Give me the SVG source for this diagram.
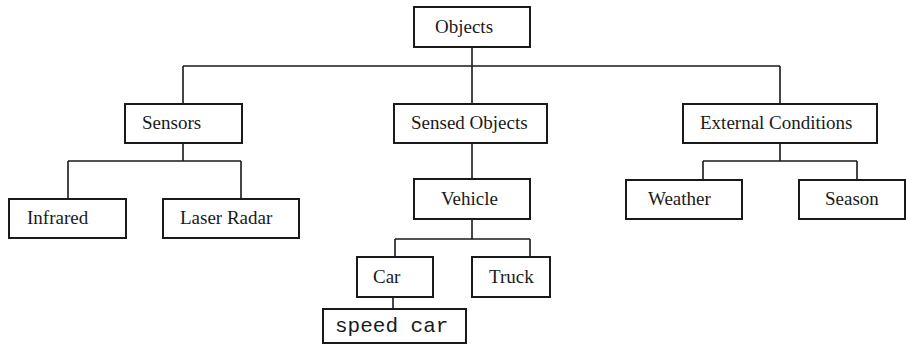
<svg xmlns="http://www.w3.org/2000/svg" width="906" height="345" viewBox="0 0 906 345">
  <style>
    .box { fill: #ffffff; stroke: #1a1a1a; stroke-width: 2; }
    .lbl { font-family: "Liberation Serif", "Times New Roman", serif; font-size: 19px; fill: #1a1a1a; }
    .mono { font-family: "Liberation Mono", "Courier New", monospace; font-size: 21px; fill: #1a1a1a; }
    .wire { fill: none; stroke: #1a1a1a; stroke-width: 1.6; }
  </style>
  <rect width="906" height="345" fill="#ffffff"/>

  <g id="connectors">
    <!-- Objects to first level -->
    <path class="wire" d="M472 47 V66 M183 66 H780 M183 66 V104 M472 66 V104 M780 66 V104"/>
    <!-- Sensors to children -->
    <path class="wire" d="M183 143 V161 M68 161 H241 M68 161 V199 M241 161 V199"/>
    <!-- Sensed Objects to Vehicle -->
    <path class="wire" d="M472 143 V179"/>
    <!-- Vehicle to Car / Truck -->
    <path class="wire" d="M472 219 V239 M395 239 H530 M395 239 V257 M530 239 V257"/>
    <!-- Car to speed car -->
    <path class="wire" d="M393 297 V309"/>
    <!-- External Conditions to children -->
    <path class="wire" d="M780 143 V161 M703 161 H857 M703 161 V180 M857 161 V180"/>
  </g>

  <g id="objects">
    <rect class="box" x="414" y="7" width="116" height="40"/>
    <text class="lbl" x="435" y="33">Objects</text>
  </g>
  <g id="sensors">
    <rect class="box" x="125" y="104" width="117" height="39"/>
    <text class="lbl" x="142" y="129">Sensors</text>
  </g>
  <g id="sensed-objects">
    <rect class="box" x="394" y="104" width="153" height="39"/>
    <text class="lbl" x="411" y="129">Sensed Objects</text>
  </g>
  <g id="external-conditions">
    <rect class="box" x="683" y="104" width="194" height="39"/>
    <text class="lbl" x="700" y="129">External Conditions</text>
  </g>
  <g id="infrared">
    <rect class="box" x="9" y="199" width="117" height="39"/>
    <text class="lbl" x="27" y="224">Infrared</text>
  </g>
  <g id="laser-radar">
    <rect class="box" x="163" y="199" width="136" height="39"/>
    <text class="lbl" x="180" y="224">Laser Radar</text>
  </g>
  <g id="vehicle">
    <rect class="box" x="414" y="179" width="116" height="40"/>
    <text class="lbl" x="441" y="205">Vehicle</text>
  </g>
  <g id="weather">
    <rect class="box" x="626" y="180" width="116" height="39"/>
    <text class="lbl" x="648" y="205">Weather</text>
  </g>
  <g id="season">
    <rect class="box" x="799" y="180" width="106" height="39"/>
    <text class="lbl" x="825" y="205">Season</text>
  </g>
  <g id="car">
    <rect class="box" x="357" y="257" width="76" height="40"/>
    <text class="lbl" x="373" y="283">Car</text>
  </g>
  <g id="truck">
    <rect class="box" x="472" y="257" width="78" height="40"/>
    <text class="lbl" x="489" y="283">Truck</text>
  </g>
  <g id="speed-car">
    <rect class="box" x="323" y="309" width="143" height="34"/>
    <text class="mono" x="335" y="332">speed car</text>
  </g>
</svg>
